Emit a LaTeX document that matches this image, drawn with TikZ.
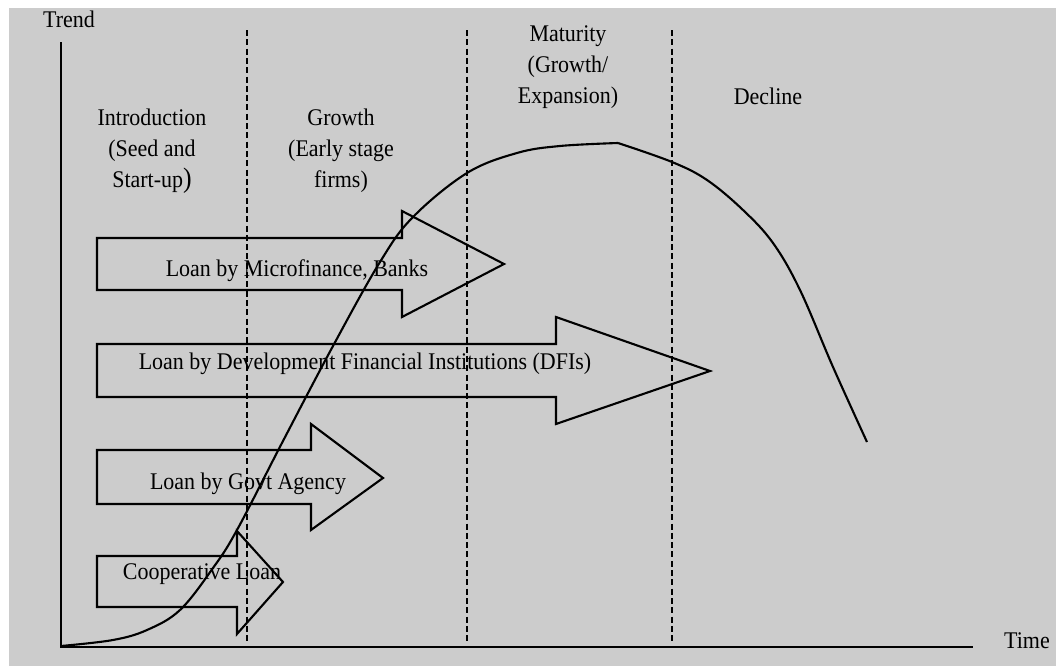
\documentclass[tikz,border=0pt]{standalone}
\usepackage{fontspec}
\setmainfont{Liberation Serif}[FakeStretch=0.92]
\definecolor{panel}{RGB}{204,204,204}
\begin{document}
\begin{tikzpicture}[x=0.02cm,y=-0.02cm,
  lbl/.style={font=\fontsize{13.6}{17.6}\selectfont, inner sep=0pt, align=center},
  stageline/.style={line width=1.1pt, dash pattern=on 3.4pt off 1.9pt},
  blockarrow/.style={line width=1.2pt, line join=miter},
  axis/.style={line width=1.4pt},
  trendcurve/.style={line width=1.2pt, line join=round}]
\useasboundingbox (0,0) rectangle (1056,666);
\fill[white] (0,0) rectangle (1056,666);
\fill[panel] (9,8) rectangle (1056,666);

% axes
\coordinate (O) at (61,647);
\coordinate (ytop) at (61,42);
\coordinate (xend) at (973,647);
\draw[axis] (ytop) -- (O) -- (xend);
\node[lbl] (trend) at (69,19) {Trend};
\node[lbl] (time) at (1027,641) {Time};

% stage boundaries
\foreach \name/\xx in {b1/247, b2/467, b3/672} {
  \coordinate (\name t) at (\xx,30);
  \coordinate (\name b) at (\xx,641);
  \draw[stageline] (\name t) -- (\name b);
}

% stage labels
\node[lbl] (intro) at (152,151) {Introduction\\(Seed and\\Start-up{\fontsize{16}{16}\selectfont)}};
\node[lbl] (growth) at (341,151) {Growth\\(Early stage\\firms)};
\node[lbl] (maturity) at (568,67) {Maturity\\(Growth/\\Expansion)};
\node[lbl] (decline) at (768,96) {Decline};

% financing block arrows
\draw[blockarrow] (97,238) -- (402,238) -- (402,211) -- (504,264) -- (402,317) -- (402,290) -- (97,290) -- cycle;
\node[lbl] (mfb) at (297,271) {Loan by Microfinance, Banks};

\draw[blockarrow] (97,344) -- (556,344) -- (556,317) -- (710,371) -- (556,424) -- (556,397) -- (97,397) -- cycle;
\node[lbl] (dfi) at (365,364) {Loan by Development Financial Institutions (DFIs)};

\draw[blockarrow] (97,450) -- (311,450) -- (311,424) -- (383,478) -- (311,530) -- (311,504) -- (97,504) -- cycle;
\node[lbl] (govt) at (248,484) {Loan by Govt Agency};

\draw[blockarrow] (97,556) -- (237,556) -- (237,531) -- (283,582) -- (237,634) -- (237,607) -- (97,607) -- cycle;
\node[lbl] (coop) at (202,574) {Cooperative Loan};

% life-cycle trend curve
\draw[trendcurve] plot[smooth, tension=0.6] coordinates {(61,646) (113,640) (147,630) (180,610) (213,568) (237,530) (283,441) (333,346) (380,262) (413,217) (467,173) (517,153) (560,146) (618,143)};
\draw[trendcurve] plot[smooth, tension=0.6] coordinates {(618,143) (672,162) (707,180) (743,210) (773,243) (800,290) (833,367) (867,442)};
\end{tikzpicture}
\end{document}
